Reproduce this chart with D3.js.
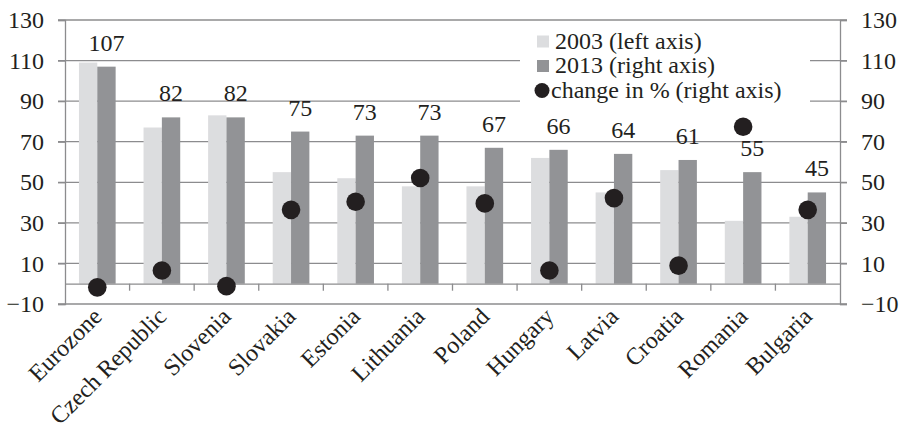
<!DOCTYPE html>
<html>
<head>
<meta charset="utf-8">
<script src="https://cdn.jsdelivr.net/npm/d3@7/dist/d3.min.js"></script>
<style>
  html, body { margin: 0; padding: 0; background: #fff; }
  svg { display: block; }
  text { font-family: "Liberation Serif", "Times New Roman", serif; fill: #231f20; }
</style>
</head>
<body>
<svg id="chart" width="903" height="423"></svg>
<script>
// Countries shown along the category axis
const countries = ["Eurozone", "Czech Republic", "Slovenia", "Slovakia", "Estonia", "Lithuania",
                   "Poland", "Hungary", "Latvia", "Croatia", "Romania", "Bulgaria"];
// Index values for 2003 (left axis)
const values2003 = [109, 77, 83, 55, 52, 48, 48, 62, 45, 56, 31, 33];
// Index values for 2013 (right axis)
const values2013 = [107, 82, 82, 75, 73, 73, 67, 66, 64, 61, 55, 45];
// Change between 2003 and 2013, in % (right axis)
const changePct = [-1.8, 6.5, -1.2, 36.4, 40.4, 52.1, 39.6, 6.5, 42.2, 8.9, 77.4, 36.4];
// Axis ticks (both axes share the same range)
const yTicks = [-10, 10, 30, 50, 70, 90, 110, 130];
const legendLabels = ["2003 (left axis)", "2013 (right axis)", "change in % (right axis)"];

const colLight = "#dcdddf", colDark = "#929396", colDot = "#231f20", colGrid = "#8c8c8e";
const svg = d3.select("#chart");
const mLeft = 65, mRight = 840, mTop = 20, mBottom = 304;
const fs = 24;

const x = d3.scaleBand().domain(countries).range([mLeft, mRight]).paddingInner(0).paddingOuter(0);
const yL = d3.scaleLinear().domain([-10, 130]).range([mBottom, mTop]);
const yR = d3.scaleLinear().domain([-10, 130]).range([mBottom, mTop]);

const barW = x.bandwidth() * 0.284;

// gridlines
svg.append("g").selectAll("line").data(yTicks.filter(d => d > -10)).join("line")
  .attr("x1", mLeft - 7).attr("x2", mRight + 7)
  .attr("y1", d => yL(d)).attr("y2", d => yL(d))
  .attr("stroke", colGrid).attr("stroke-width", 1.3);

// left axis
const axL = svg.append("g").attr("transform", `translate(${mLeft},0)`)
  .call(d3.axisLeft(yL).tickValues(yTicks).tickSize(7).tickPadding(14).tickFormat(d3.format("d")));
// right axis
const axR = svg.append("g").attr("transform", `translate(${mRight},0)`)
  .call(d3.axisRight(yR).tickValues(yTicks).tickSize(7).tickPadding(14).tickFormat(d3.format("d")));
[axL, axR].forEach(a => {
  a.select(".domain").attr("stroke", colGrid).attr("stroke-width", 1.3);
  a.selectAll(".tick line").attr("stroke", colGrid).attr("stroke-width", 1.3);
  a.selectAll(".tick text").style("font-size", fs + "px").attr("fill", "#231f20")
    .style("font-family", '"Liberation Serif", serif');
});
// bottom frame at -10
svg.append("line").attr("x1", mLeft - 7).attr("x2", mRight + 7)
  .attr("y1", yL(-10)).attr("y2", yL(-10)).attr("stroke", colGrid).attr("stroke-width", 1.3);

// bars
const g = svg.append("g");
g.selectAll("rect.b03").data(countries).join("rect").attr("class", "b03")
  .attr("x", d => x(d) + x.bandwidth() / 2 - barW)
  .attr("width", barW)
  .attr("y", (d, i) => yL(values2003[i]))
  .attr("height", (d, i) => yL(0) - yL(values2003[i]))
  .attr("fill", colLight);
g.selectAll("rect.b13").data(countries).join("rect").attr("class", "b13")
  .attr("x", d => x(d) + x.bandwidth() / 2)
  .attr("width", barW)
  .attr("y", (d, i) => yR(values2013[i]))
  .attr("height", (d, i) => yR(0) - yR(values2013[i]))
  .attr("fill", colDark);

// category axis at zero
const axX = svg.append("g").attr("transform", `translate(0,${yL(0)})`)
  .call(d3.axisBottom(x).tickSize(0).tickFormat(""));
axX.select(".domain").attr("stroke", colGrid).attr("stroke-width", 1.3);
svg.append("g").selectAll("line").data(countries.slice(1)).join("line")
  .attr("x1", d => x(d)).attr("x2", d => x(d))
  .attr("y1", yL(0)).attr("y2", yL(0) + 7)
  .attr("stroke", colGrid).attr("stroke-width", 1.3);

// category labels
svg.append("g").selectAll("text").data(countries).join("text")
  .attr("transform", d => `translate(${x(d) + x.bandwidth() / 2 - 6},${mBottom + 2}) rotate(-45)`)
  .attr("text-anchor", "end").attr("dy", "0.7em")
  .style("font-size", fs + "px")
  .text(d => d);

// value labels for 2013
svg.append("g").selectAll("text").data(countries).join("text")
  .attr("x", d => x(d) + x.bandwidth() / 2 + barW / 2)
  .attr("y", (d, i) => yR(values2013[i]) - 16)
  .attr("text-anchor", "middle")
  .style("font-size", fs + "px")
  .text((d, i) => values2013[i]);

// legend
const lg = svg.append("g");
lg.append("rect").attr("x", 520).attr("y", 22).attr("width", 290).attr("height", 82).attr("fill", "#fff");
const rows = [48.5, 73, 97.5];
lg.append("rect").attr("x", 537).attr("y", rows[0] - 13).attr("width", 12).attr("height", 12).attr("fill", colLight);
lg.append("rect").attr("x", 537).attr("y", rows[1] - 13).attr("width", 12).attr("height", 12).attr("fill", colDark);
lg.append("circle").attr("cx", 542).attr("cy", rows[2] - 7).attr("r", 7.5).attr("fill", colDot);
lg.selectAll("text").data(legendLabels).join("text")
  .attr("x", (d, i) => i === 2 ? 551 : 555).attr("y", (d, i) => rows[i])
  .style("font-size", fs + "px").text(d => d);

// change dots
svg.append("g").selectAll("circle").data(countries).join("circle")
  .attr("cx", d => x(d) + x.bandwidth() / 2)
  .attr("cy", (d, i) => yR(changePct[i]))
  .attr("r", 9.3)
  .attr("fill", colDot);
</script>
</body>
</html>
